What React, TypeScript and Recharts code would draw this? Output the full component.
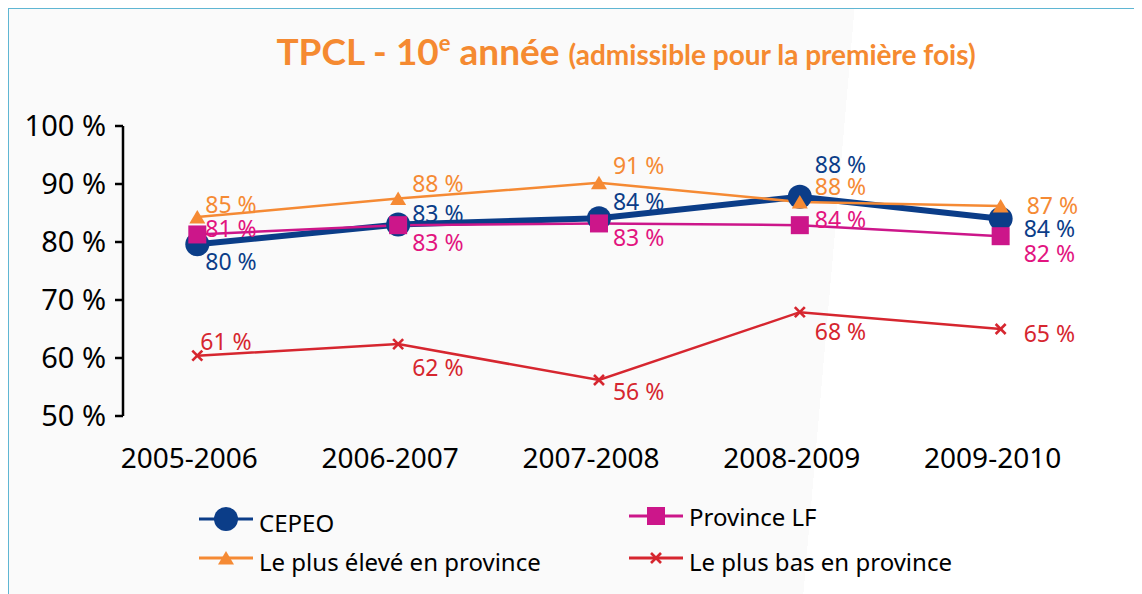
import React from 'react';
import { LineChart, Line, XAxis, YAxis, LabelList } from 'recharts';

const CATEGORIES = ['2005-2006', '2006-2007', '2007-2008', '2008-2009', '2009-2010'];

// plotted values (as drawn) and the labels printed next to the points
const CEPEO = [79.6, 83.0, 84.1, 87.8, 84.0];
const CEPEO_LABELS = [80, 83, 84, 88, 84];
const PROVINCE_LF = [81.3, 82.9, 83.2, 82.9, 81.0];
const PROVINCE_LF_LABELS = [81, 83, 83, 84, 82];
const PLUS_ELEVE = [84.3, 87.5, 90.2, 86.9, 86.2];
const PLUS_ELEVE_LABELS = [85, 88, 91, 88, 87];
const PLUS_BAS = [60.4, 62.4, 56.2, 67.9, 65.0];
const PLUS_BAS_LABELS = [61, 62, 56, 68, 65];

const Y_TICKS = [50, 60, 70, 80, 90, 100];

// the original axis has uneven tick marks between the categories
const X_DOMAIN = [-0.37, 4.42];
const X_BOUNDS = [-0.37, 0.44, 1.37, 2.49, 3.45, 4.42];

const FONT = '"Noto Sans", "Open Sans", sans-serif';
const LABEL_DX = [8, 14, 14, 15, 23];

type Shape = 'circle' | 'square' | 'triangle' | 'cross';

const SERIES: {
  key: string;
  name: string;
  labels: number[];
  stroke: string;
  text: string;
  width: number;
  shape: Shape;
  dy: number[];
  dx?: number[];
}[] = [
  { key: 'cepeo', name: 'CEPEO', labels: CEPEO_LABELS, stroke: '#0B3D88', text: '#0B3D88', width: 6, shape: 'circle', dy: [17, -12, -17, -33, 9] },
  { key: 'lf', name: 'Province LF', labels: PROVINCE_LF_LABELS, stroke: '#CC168A', text: '#E2147F', width: 2.5, shape: 'square', dy: [-6, 17, 14, -6, 17] },
  { key: 'high', name: 'Le plus élevé en province', labels: PLUS_ELEVE_LABELS, stroke: '#F58A34', text: '#F58A34', width: 2.5, shape: 'triangle', dy: [-13, -16, -18, -16, -1], dx: [8, 14, 14, 15, 26] },
  { key: 'low', name: 'Le plus bas en province', labels: PLUS_BAS_LABELS, stroke: '#D6262F', text: '#D6262F', width: 2.5, shape: 'cross', dy: [-15, 23, 11, 19, 4], dx: [3, 14, 14, 15, 23] },
];

const data = CATEGORIES.map((cat, i) => ({
  idx: i,
  cat,
  cepeo: CEPEO[i],
  lf: PROVINCE_LF[i],
  high: PLUS_ELEVE[i],
  low: PLUS_BAS[i],
}));

function Marker({ shape, cx, cy, color }: { shape: Shape; cx: number; cy: number; color: string }) {
  if (shape === 'circle') return <circle cx={cx} cy={cy} r={12} fill={color} />;
  if (shape === 'square') return <rect x={cx - 9} y={cy - 9} width={18} height={18} fill={color} />;
  if (shape === 'triangle')
    return <polygon points={`${cx},${cy - 7} ${cx + 8},${cy + 6.5} ${cx - 8},${cy + 6.5}`} fill={color} />;
  return (
    <g stroke={color} strokeWidth={2.6}>
      <line x1={cx - 5} y1={cy - 5} x2={cx + 5} y2={cy + 5} />
      <line x1={cx - 5} y1={cy + 5} x2={cx + 5} y2={cy - 5} />
    </g>
  );
}

export default function App() {
  return (
    <div
      style={{
        position: 'relative',
        width: 1134,
        height: 586,
        boxSizing: 'border-box',
        borderTop: '1.5px solid #5FB6D3',
        borderLeft: '1.5px solid #5FB6D3',
        background: 'linear-gradient(95deg, #FAFAFA 0%, #FAFAFA 71.4%, #FFFFFF 71.4%)',
        fontFamily: FONT,
      }}
    >
      <svg width={1134} height={110} style={{ position: 'absolute', left: 0, top: 0 }}>
        <text x={617} y={56} textAnchor="middle" fill="#F58A31" fontFamily="Lato, sans-serif" fontWeight={700}>
          <tspan fontSize={37}>TPCL - 10</tspan>
          <tspan fontSize={22} dy={-14}>e</tspan>
          <tspan fontSize={37} dy={14}> année </tspan>
          <tspan fontSize={28}>(admissible pour la première fois)</tspan>
        </text>
      </svg>

      <div style={{ position: 'absolute', left: 0, top: 0 }}>
        <LineChart width={1134} height={480} data={data} margin={{ top: 117, right: 58, left: 0, bottom: 0 }}>
          <XAxis
            xAxisId="bounds"
            dataKey="idx"
            type="number"
            domain={X_DOMAIN}
            ticks={X_BOUNDS}
            height={0}
            tick={false}
            tickSize={11}
            axisLine={{ stroke: '#000', strokeWidth: 2.5 }}
            tickLine={{ stroke: '#000', strokeWidth: 2.5 }}
          />
          <XAxis
            xAxisId="labels"
            dataKey="idx"
            type="number"
            domain={X_DOMAIN}
            ticks={[0, 1, 2, 3, 4]}
            height={73}
            axisLine={false}
            tickLine={false}
            tickSize={0}
            tickMargin={32}
            tickFormatter={(v: number) => CATEGORIES[v] ?? ''}
            tick={{ fill: '#000', fontSize: 28, fontFamily: FONT, dx: -8 }}
          />
          <YAxis
            type="number"
            domain={[50, 100]}
            ticks={Y_TICKS}
            width={114}
            tickSize={8}
            tickMargin={9}
            tickFormatter={(v: number) => `${v} %`}
            tick={{ fill: '#000', fontSize: 29, fontFamily: FONT }}
            axisLine={{ stroke: '#000', strokeWidth: 2.5 }}
            tickLine={{ stroke: '#000', strokeWidth: 2.5 }}
          />
          {SERIES.map((s) => (
            <Line
              key={s.key}
              xAxisId="labels"
              dataKey={s.key}
              name={s.name}
              stroke={s.stroke}
              strokeWidth={s.width}
              isAnimationActive={false}
              dot={(p: any) => <Marker key={`${s.key}-${p.index}`} shape={s.shape} cx={p.cx} cy={p.cy} color={s.stroke} />}
              activeDot={false}
            >
              <LabelList
                dataKey={s.key}
                content={(p: any) => (
                  <text
                    x={Number(p.x) + (s.dx ?? LABEL_DX)[p.index]}
                    y={Number(p.y) + s.dy[p.index]}
                    fill={s.text}
                    fontSize={23}
                    fontFamily={FONT}
                    dominantBaseline="central"
                  >
                    {`${s.labels[p.index]} %`}
                  </text>
                )}
              />
            </Line>
          ))}
        </LineChart>
      </div>

      <svg width={1134} height={100} style={{ position: 'absolute', left: 0, top: 480 }}>
        {SERIES.map((s, i) => {
          const lx = i % 2 === 0 ? 190 : 620;
          const ly = i === 0 ? 30 : i === 1 ? 27 : 69;
          return (
            <g key={s.key}>
              <line x1={lx} y1={ly} x2={lx + 54} y2={ly} stroke={s.stroke} strokeWidth={3} />
              <Marker shape={s.shape} cx={lx + 27} cy={ly} color={s.stroke} />
              <text x={lx + 60} y={ly + (i === 1 ? 0 : 3)} fontSize={24} fontFamily={FONT} fill="#000" dominantBaseline="central">
                {s.name}
              </text>
            </g>
          );
        })}
      </svg>
    </div>
  );
}
